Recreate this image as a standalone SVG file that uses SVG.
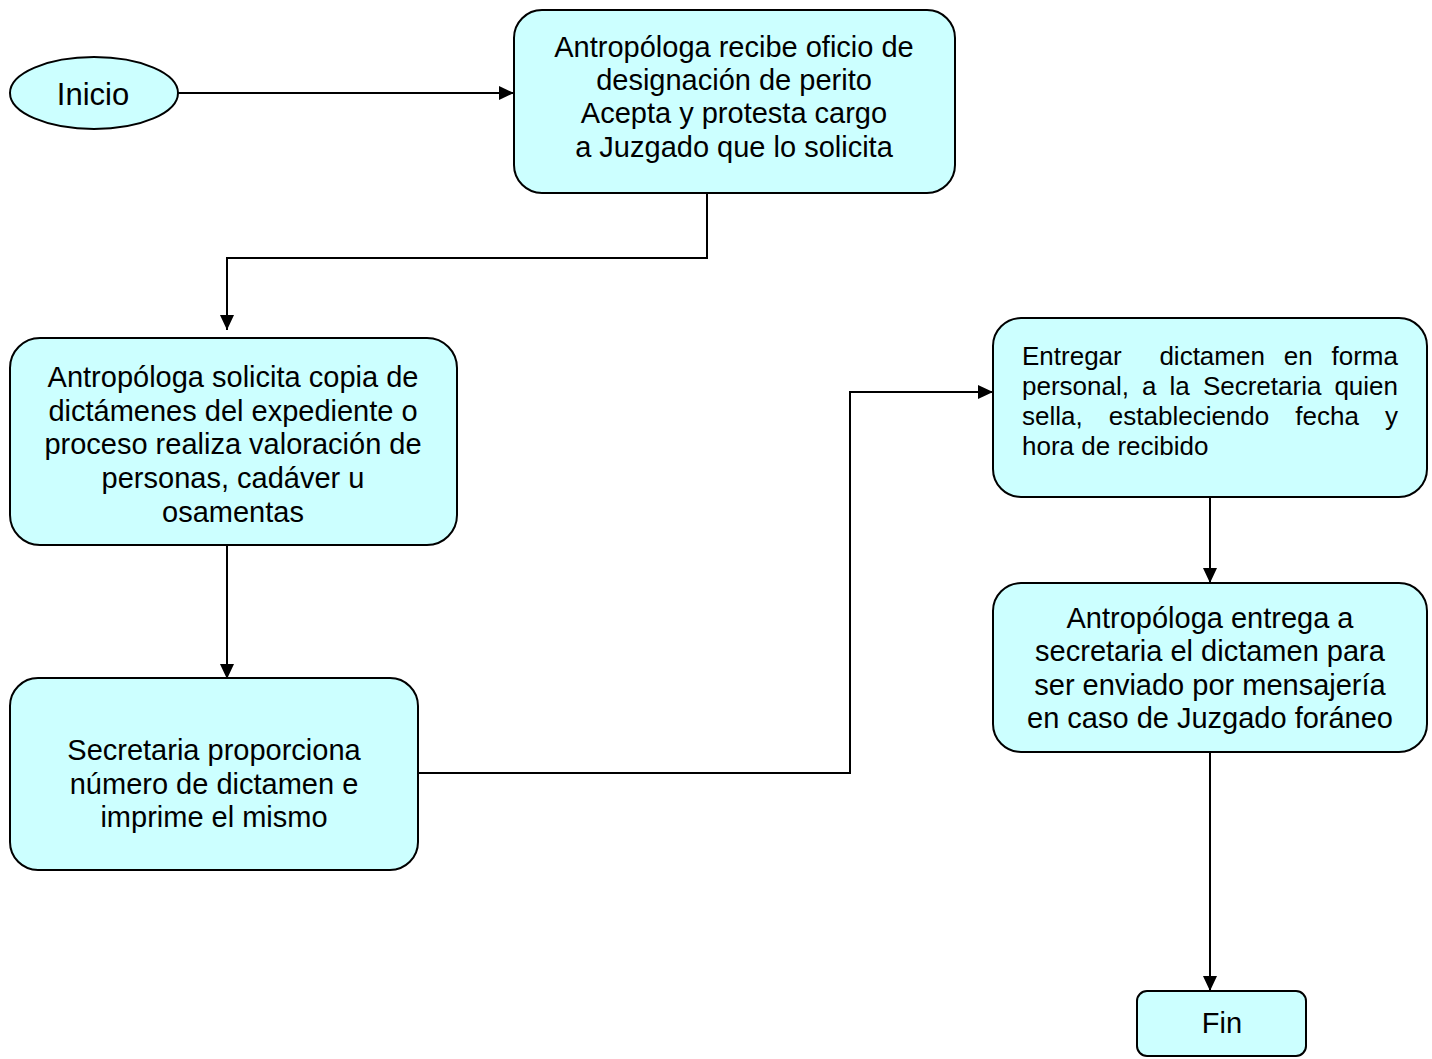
<svg xmlns="http://www.w3.org/2000/svg" width="1432" height="1059" viewBox="0 0 1432 1059">
  <style>
    .shape { fill: #CCFFFF; stroke: #000000; stroke-width: 2; }
    .label { font-family: "Liberation Sans", Arial, sans-serif; font-size: 29px; fill: #000000; text-anchor: middle; }
    .small { font-family: "Liberation Sans", Arial, sans-serif; font-size: 26px; fill: #000000; }
    .end { text-anchor: end; }
    .link { fill: none; stroke: #000000; stroke-width: 2; marker-end: url(#arrow); }
  </style>
  <defs>
    <marker id="arrow" markerUnits="userSpaceOnUse" markerWidth="16" markerHeight="14" refX="15" refY="7" orient="auto">
      <path d="M0,0 L15,7 L0,14 Z" fill="#000000"/>
    </marker>
  </defs>
  <rect width="1432" height="1059" fill="#FFFFFF"/>

  <!-- connectors -->
  <g id="connectors">
    <path class="link" d="M178,93 L514,93"/>
    <path class="link" d="M707,193 L707,258 L227,258 L227,330"/>
    <path class="link" d="M227,545 L227,679"/>
    <path class="link" d="M418,773 L850,773 L850,392 L993,392"/>
    <path class="link" d="M1210,497 L1210,583"/>
    <path class="link" d="M1210,752 L1210,991"/>
  </g>

  <g id="inicio">
    <ellipse class="shape" cx="94" cy="93" rx="84" ry="36"/>
    <text class="label" x="93" y="105" style="font-size:31px">Inicio</text>
  </g>

  <g id="recibe-oficio">
    <rect class="shape" x="514" y="10" width="441" height="183" rx="28" ry="28"/>
    <text class="label" x="734" y="57">Antropóloga recibe oficio de</text>
    <text class="label" x="734" y="90">designación de perito</text>
    <text class="label" x="734" y="123">Acepta y protesta cargo</text>
    <text class="label" x="734" y="157">a Juzgado que lo solicita</text>
  </g>

  <g id="solicita-copia">
    <rect class="shape" x="10" y="338" width="447" height="207" rx="30" ry="30"/>
    <text class="label" x="233" y="387">Antropóloga solicita copia de</text>
    <text class="label" x="233" y="420.5">dictámenes del expediente o</text>
    <text class="label" x="233" y="454">proceso realiza valoración de</text>
    <text class="label" x="233" y="488">personas, cadáver u</text>
    <text class="label" x="233" y="522">osamentas</text>
  </g>

  <g id="numero-dictamen">
    <rect class="shape" x="10" y="678" width="408" height="192" rx="28" ry="28"/>
    <text class="label" x="214" y="760">Secretaria proporciona</text>
    <text class="label" x="214" y="793.5">número de dictamen e</text>
    <text class="label" x="214" y="827">imprime el mismo</text>
  </g>

  <g id="entregar-dictamen">
    <rect class="shape" x="993" y="318" width="434" height="179" rx="28" ry="28"/>
    <!-- justified paragraph: words placed one by one -->
    <text class="small" y="365"><tspan x="1022">Entregar</tspan><tspan x="1159.4">dictamen</tspan><tspan x="1283.8">en</tspan><tspan x="1398" class="end">forma</tspan></text>
    <text class="small" y="395"><tspan x="1022">personal,</tspan><tspan x="1142">a</tspan><tspan x="1169.6">la</tspan><tspan x="1202.9">Secretaria</tspan><tspan x="1398" class="end">quien</tspan></text>
    <text class="small" y="425"><tspan x="1022">sella,</tspan><tspan x="1108.8">estableciendo</tspan><tspan x="1295.3">fecha</tspan><tspan x="1398" class="end">y</tspan></text>
    <text class="small" x="1022" y="455">hora de recibido</text>
  </g>

  <g id="entrega-secretaria">
    <rect class="shape" x="993" y="583" width="434" height="169" rx="28" ry="28"/>
    <text class="label" x="1210" y="628">Antropóloga entrega a</text>
    <text class="label" x="1210" y="661">secretaria el dictamen para</text>
    <text class="label" x="1210" y="695">ser enviado por mensajería</text>
    <text class="label" x="1210" y="728">en caso de Juzgado foráneo</text>
  </g>

  <g id="fin">
    <rect class="shape" x="1137" y="991" width="169" height="65" rx="10" ry="10"/>
    <text class="label" x="1222" y="1033">Fin</text>
  </g>
</svg>
